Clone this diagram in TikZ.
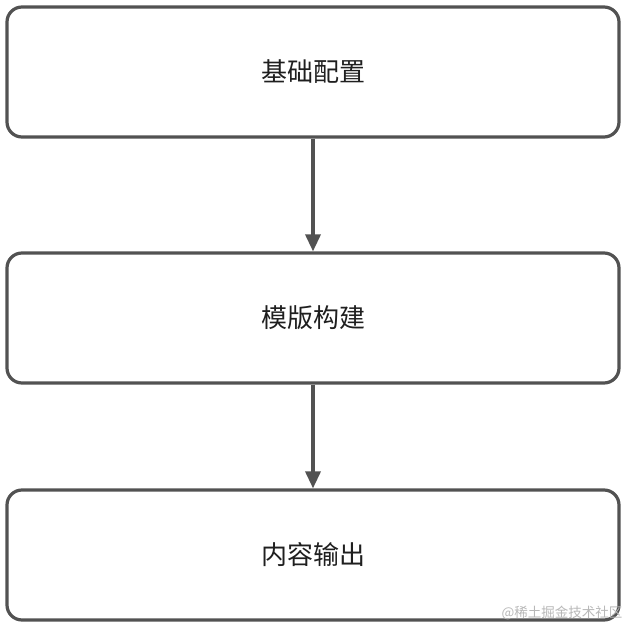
\documentclass[tikz,border=0pt]{standalone}
\usepackage{fontspec}
\newfontfamily\cjk{Noto Sans CJK SC}
\usetikzlibrary{arrows.meta}
\begin{document}
\begin{tikzpicture}[x=1pt,y=-1pt,
  box/.style={draw=black!68,line width=3.2pt,rounded corners=15pt,minimum width=612pt,minimum height=130pt,fill=white,font=\cjk\fontsize{26}{30}\selectfont,text=black!88},
  conn/.style={draw=black!68,line width=3.4pt,-{Triangle[length=17pt,width=15pt]}}]
\useasboundingbox[fill=white] (0,0) rectangle (630,628);
\node[box] (a) at (313,72) {基础配置};
\node[box] (b) at (313,318) {模版构建};
\node[box] (c) at (313,555) {内容输出};
\draw[conn] (a) -- (b);
\draw[conn] (b) -- (c);
\node[anchor=east,font=\cjk\fontsize{13.5}{15}\selectfont,text=black!28] (w) at (626,613) {@稀土掘金技术社区};
\end{tikzpicture}
\end{document}
